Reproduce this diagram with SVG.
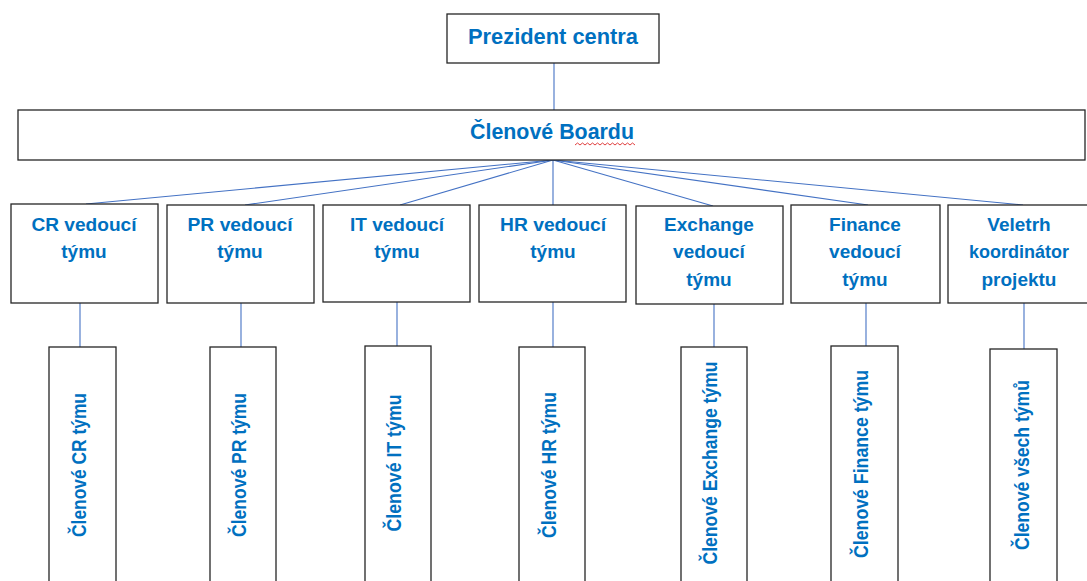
<svg xmlns="http://www.w3.org/2000/svg" width="1087" height="581" viewBox="0 0 1087 581">
<style>
.box{fill:#fff;stroke:#262626;stroke-width:1.3}
.t{font-family:"Liberation Sans",Arial,sans-serif;font-weight:bold;fill:#0070C0;text-anchor:middle}
.lead{font-size:19px}
.top{font-size:22px}
.mem{font-size:20px;dominant-baseline:central}
.c{stroke:#4472C4;stroke-width:1.1;fill:none}
</style>
<rect width="1087" height="581" fill="#fff"/>
<g id="connectors">
<line class="c" x1="554" y1="63" x2="554" y2="110"/>
<line class="c" x1="553" y1="160" x2="86" y2="204"/>
<line class="c" x1="553" y1="160" x2="245" y2="205"/>
<line class="c" x1="553" y1="160" x2="400" y2="205"/>
<line class="c" x1="553" y1="160" x2="553" y2="205"/>
<line class="c" x1="553" y1="160" x2="713" y2="206"/>
<line class="c" x1="553" y1="160" x2="868" y2="205"/>
<line class="c" x1="553" y1="160" x2="1023" y2="205"/>
<line class="c" x1="80" y1="301" x2="80" y2="347"/>
<line class="c" x1="241" y1="301" x2="241" y2="347"/>
<line class="c" x1="397" y1="299" x2="397" y2="346"/>
<line class="c" x1="553" y1="300" x2="553" y2="347"/>
<line class="c" x1="714" y1="302" x2="714" y2="347"/>
<line class="c" x1="866" y1="299" x2="866" y2="346"/>
<line class="c" x1="1024" y1="302" x2="1024" y2="349"/>
</g>
<g id="president">
<rect class="box" x="447" y="14" width="212" height="49"/>
<text class="t top" x="553" y="44" textLength="170" lengthAdjust="spacingAndGlyphs">Prezident centra</text>
</g>
<g id="board">
<rect class="box" x="18" y="110" width="1067" height="50"/>
<text class="t top" x="552" y="139" textLength="164" lengthAdjust="spacingAndGlyphs">Členové Boardu</text>
<path d="M575 145 l2.5 -2 l2.5 2 l2.5 -2 l2.5 2 l2.5 -2 l2.5 2 l2.5 -2 l2.5 2 l2.5 -2 l2.5 2 l2.5 -2 l2.5 2 l2.5 -2 l2.5 2 l2.5 -2 l2.5 2 l2.5 -2 l2.5 2 l2.5 -2 l2.5 2 l2.5 -2 l2.5 2 l2.5 -2 l2.5 2" fill="none" stroke="#e04040" stroke-width="1"/>
</g>
<g id="lead-cr">
<rect class="box" x="11" y="204" width="147" height="99"/>
<text class="t lead" x="84" y="231" textLength="105" lengthAdjust="spacingAndGlyphs">CR vedoucí</text>
<text class="t lead" x="84" y="258">týmu</text>
</g>
<g id="lead-pr">
<rect class="box" x="167" y="205" width="147" height="98"/>
<text class="t lead" x="240" y="231" textLength="105" lengthAdjust="spacingAndGlyphs">PR vedoucí</text>
<text class="t lead" x="240" y="258">týmu</text>
</g>
<g id="lead-it">
<rect class="box" x="323" y="205" width="147" height="97"/>
<text class="t lead" x="397" y="231">IT vedoucí</text>
<text class="t lead" x="397" y="258">týmu</text>
</g>
<g id="lead-hr">
<rect class="box" x="479" y="205" width="147" height="97"/>
<text class="t lead" x="553" y="231" textLength="106" lengthAdjust="spacingAndGlyphs">HR vedoucí</text>
<text class="t lead" x="553" y="258">týmu</text>
</g>
<g id="lead-exchange">
<rect class="box" x="636" y="206" width="147" height="98"/>
<text class="t lead" x="709" y="231">Exchange</text>
<text class="t lead" x="709" y="258">vedoucí</text>
<text class="t lead" x="709" y="286">týmu</text>
</g>
<g id="lead-finance">
<rect class="box" x="791" y="205" width="149" height="98"/>
<text class="t lead" x="865" y="231">Finance</text>
<text class="t lead" x="865" y="258">vedoucí</text>
<text class="t lead" x="865" y="286">týmu</text>
</g>
<g id="lead-veletrh">
<rect class="box" x="948" y="205" width="147" height="98"/>
<text class="t lead" x="1019" y="231">Veletrh</text>
<text class="t lead" x="1019" y="258" textLength="100" lengthAdjust="spacingAndGlyphs">koordinátor</text>
<text class="t lead" x="1019" y="286">projektu</text>
</g>
<g id="mem-cr">
<rect class="box" x="49" y="347" width="67" height="245"/>
<text class="t mem" transform="translate(79,465) rotate(-90)" textLength="144" lengthAdjust="spacingAndGlyphs">Členové CR týmu</text>
</g>
<g id="mem-pr">
<rect class="box" x="210" y="347" width="66" height="245"/>
<text class="t mem" transform="translate(239,465) rotate(-90)" textLength="144" lengthAdjust="spacingAndGlyphs">Členové PR týmu</text>
</g>
<g id="mem-it">
<rect class="box" x="365" y="346" width="66" height="246"/>
<text class="t mem" transform="translate(394,463) rotate(-90)" textLength="137" lengthAdjust="spacingAndGlyphs">Členové IT týmu</text>
</g>
<g id="mem-hr">
<rect class="box" x="519" y="347" width="66" height="245"/>
<text class="t mem" transform="translate(549,465) rotate(-90)" textLength="146" lengthAdjust="spacingAndGlyphs">Členové HR týmu</text>
</g>
<g id="mem-exchange">
<rect class="box" x="681" y="347" width="66" height="245"/>
<text class="t mem" transform="translate(710,463) rotate(-90)" textLength="203" lengthAdjust="spacingAndGlyphs">Členové Exchange týmu</text>
</g>
<g id="mem-finance">
<rect class="box" x="831" y="346" width="67" height="246"/>
<text class="t mem" transform="translate(861,464) rotate(-90)" textLength="188" lengthAdjust="spacingAndGlyphs">Členové Finance týmu</text>
</g>
<g id="mem-all">
<rect class="box" x="990" y="349" width="67" height="243"/>
<text class="t mem" transform="translate(1022,465) rotate(-90)" textLength="170" lengthAdjust="spacingAndGlyphs">Členové všech týmů</text>
</g>
</svg>
